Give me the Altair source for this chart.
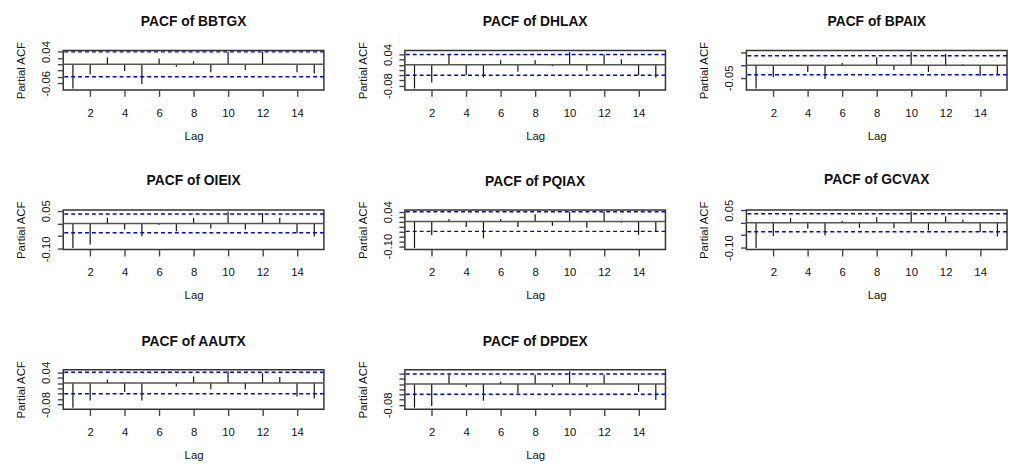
import altair as alt
import pandas as pd

# ---------------- data ----------------
names = ["BBTGX", "DHLAX", "BPAIX", "OIEIX", "PQIAX", "GCVAX", "AAUTX", "DPDEX"]
lags = list(range(1, 16))

bbtgx = [-0.076, -0.031, 0.021, -0.021, -0.062, 0.018, -0.008, 0.010, -0.025, 0.039, -0.018, 0.039, 0.002, -0.025, -0.029]
dhlax = [-0.091, -0.068, 0.040, -0.040, -0.049, 0.018, -0.027, 0.018, -0.005, 0.050, -0.023, 0.040, 0.022, -0.040, -0.050]
bpaix = [-0.092, -0.048, 0.001, -0.027, -0.055, 0.010, -0.002, 0.032, -0.019, 0.053, -0.027, 0.046, 0.004, -0.043, -0.036]
oieix = [-0.097, -0.083, 0.022, -0.024, -0.050, -0.005, -0.031, 0.022, -0.020, 0.047, -0.024, 0.041, 0.022, -0.039, -0.051]
pqiax = [-0.108, -0.055, 0.010, -0.022, -0.068, 0.010, -0.022, 0.030, -0.017, 0.039, -0.025, 0.041, -0.005, -0.054, -0.041]
gcvax = [-0.102, -0.053, 0.018, -0.023, -0.051, 0.008, -0.022, 0.022, -0.022, 0.045, -0.031, 0.026, 0.013, -0.037, -0.055]
aautx = [-0.092, -0.065, 0.013, -0.033, -0.065, 0.001, -0.013, 0.025, -0.023, 0.0445, -0.023, 0.038, 0.023, -0.050, -0.058]
dpdex = [-0.091, -0.084, 0.036, -0.011, -0.064, 0.009, -0.034, 0.036, -0.010, 0.050, -0.011, 0.036, 0.001, -0.030, -0.061]
series = [bbtgx, dhlax, bpaix, oieix, pqiax, gcvax, aautx, dpdex]

# 95% confidence limits (blue dashed lines)
clims = [0.039, 0.040, 0.038, 0.037, 0.040, 0.036, 0.040, 0.039]

# y tick positions and which of them carry a label
y_ticks = [
    [-0.06, -0.04, -0.02, 0.0, 0.02, 0.04],
    [-0.08, -0.06, -0.04, -0.02, 0.0, 0.02, 0.04],
    [-0.05, 0.0, 0.05],
    [-0.10, -0.05, 0.0, 0.05],
    [-0.10, -0.08, -0.06, -0.04, -0.02, 0.0, 0.02, 0.04],
    [-0.10, -0.05, 0.0, 0.05],
    [-0.08, -0.06, -0.04, -0.02, 0.0, 0.02, 0.04],
    [-0.08, -0.06, -0.04, -0.02, 0.0, 0.02, 0.04],
]
y_labeled = [
    [0.04, -0.06],
    [0.04, -0.08],
    [-0.05],
    [0.05, -0.10],
    [0.04, -0.10],
    [0.05, -0.10],
    [0.04, -0.08],
    [-0.08],
]
x_ticks = [2, 4, 6, 8, 10, 12, 14]

# ---------------- styling ----------------
FONT = "Arial"
W, H = 264, 40
FS = 11.5


def panel(i):
    vals = series[i]
    c = clims[i]
    lo = min(min(vals), -c)
    hi = max(max(vals), c)
    r = hi - lo
    ydom = [lo - 0.04 * r, hi + 0.04 * r]
    xr = max(lags) - min(lags)
    xdom = [min(lags) - 0.04 * xr, max(lags) + 0.04 * xr]

    ysc = alt.Scale(domain=ydom, nice=False, zero=False)
    xsc = alt.Scale(domain=xdom, nice=False, zero=False)

    lab_list = ",".join(repr(v) for v in y_labeled[i])
    label_expr = (
        f"indexof([{lab_list}], datum.value) >= 0 ? "
        "((datum.value < 0 ? '-' : '') + format(abs(datum.value), '.2f')) : ''"
    )

    yaxis = alt.Axis(
        values=y_ticks[i], labelExpr=label_expr, title="Partial ACF",
        grid=False, domain=False, tickSize=6, tickColor="#444444",
        tickWidth=1.4, labelFont=FONT, labelFontSize=FS,
        labelColor="#111111", labelAngle=270, labelAlign="center",
        labelBaseline="alphabetic", labelPadding=8, labelFlush=False,
        labelOverlap=False,
        titleFont=FONT, titleFontSize=FS, titleFontWeight="normal",
        titleColor="#111111", titleAngle=270, titleBaseline="alphabetic",
        titleAlign="center", titleX=-39, titleY=H / 2,
    )
    xaxis = alt.Axis(
        values=x_ticks, format="d", title="Lag", grid=False, domain=False,
        tickSize=6.5, tickColor="#444444", tickWidth=1.4,
        labelFont=FONT, labelFontSize=FS, labelColor="#111111",
        labelBaseline="alphabetic", labelPadding=20, labelFlush=False,
        labelOverlap=False,
        titleFont=FONT, titleFontSize=FS, titleFontWeight="normal",
        titleColor="#111111", titleBaseline="alphabetic", titleY=50,
        titleX=W / 2, titleAlign="center",
    )

    df = pd.DataFrame({"lag": lags, "pacf": vals})
    spikes = alt.Chart(df).mark_rule(color="#111111", strokeWidth=1.2).encode(
        x=alt.X("lag:Q", scale=xsc, axis=xaxis),
        y=alt.Y("pacf:Q", scale=ysc, axis=yaxis, title="Partial ACF"),
        y2=alt.datum(0),
    )

    zero = alt.Chart(pd.DataFrame({"pacf": [0.0]})).mark_rule(
        color="#555555", strokeWidth=1.5
    ).encode(y=alt.Y("pacf:Q", scale=ysc, axis=yaxis, title="Partial ACF"))

    ci = alt.Chart(pd.DataFrame({"pacf": [c, -c]})).mark_rule(
        color="#0000ff", strokeWidth=1.5, strokeDash=[4, 3]
    ).encode(y=alt.Y("pacf:Q", scale=ysc, axis=yaxis, title="Partial ACF"))

    return alt.layer(spikes, zero, ci).properties(
        width=W,
        height=H,
        title=alt.TitleParams(
            text=f"PACF of {names[i]}", font=FONT, fontSize=14, fontWeight="bold",
            color="#111111", anchor="middle", baseline="alphabetic", offset=1,
        ),
    )


chart = (
    alt.concat(*[panel(i) for i in range(len(names))], columns=3,
               spacing={"row": 121.7, "column": 82})
    .properties(bounds="flush", padding={"left": 7, "top": 3, "right": 0, "bottom": 0},
                background="white")
    .configure_view(stroke="#333333", strokeWidth=1.5)
)

chart.save("out.html", embed_options={"renderer": "svg", "actions": False})
